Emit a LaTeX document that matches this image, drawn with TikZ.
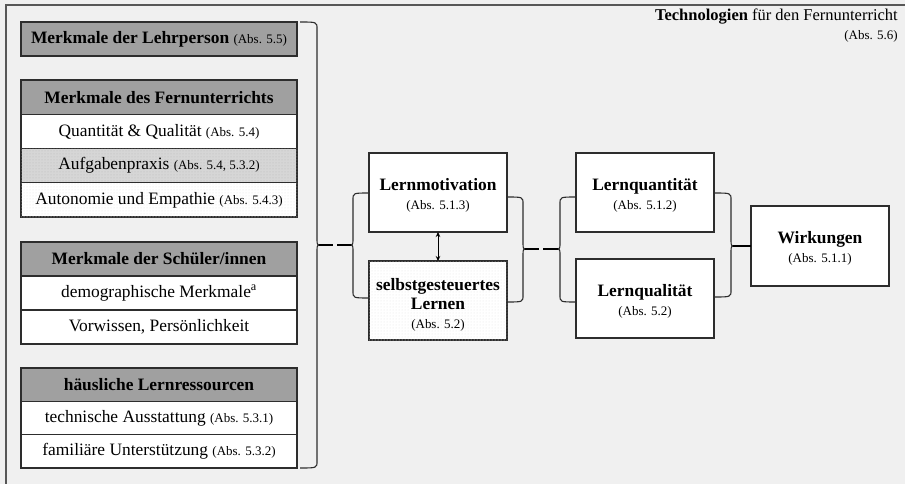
\documentclass[tikz,border=0pt]{standalone}
\usepackage{fontspec}
\setmainfont{Liberation Serif}
\usetikzlibrary{arrows.meta,patterns}
\definecolor{bgcol}{RGB}{240,240,240}
\definecolor{hdrcol}{RGB}{160,160,160}
\definecolor{midcol}{RGB}{214,214,214}
\definecolor{linecol}{RGB}{45,45,45}
\newcommand{\mainsz}{\fontsize{17.4}{19}\selectfont}
\newcommand{\smsz}{\fontsize{13}{19}\selectfont}
\newcommand{\mybrace}[6]{%
  \draw[bracestyle] (#1,#3) .. controls (#2,#3) and (#2,#3) .. (#2,#3+7)
    -- (#2,#5-6) .. controls (#2,#5) and (#2,#5) .. ({#2+#6*5},#5)
    .. controls (#2,#5) and (#2,#5) .. (#2,#5+6)
    -- (#2,#4-7) .. controls (#2,#4) and (#2,#4) .. (#1,#4);}
\tikzset{
  box/.style={draw=linecol, line width=1.2pt, inner sep=0pt, outer sep=0pt,
    minimum width=276pt, font=\mainsz, align=center},
  hdr/.style={box, fill=hdrcol, font=\mainsz\bfseries},
  plain/.style={box, fill=white},
  midrow/.style={box, fill=midcol, postaction={pattern=dots, pattern color=gray!55}},
  lightrow/.style={box, fill=white, postaction={pattern=dots, pattern color=gray!22}},
  bigbox/.style={draw=linecol, line width=1.2pt, inner sep=0pt, outer sep=0pt,
    minimum width=138pt, minimum height=79pt, fill=white, font=\mainsz, align=center},
  bracestyle/.style={draw=linecol, line width=1.1pt},
  tipline/.style={draw=black, line width=1.6pt},
  framestyle/.style={draw=linecol!80, line width=1.2pt},
}
\begin{document}
\begin{tikzpicture}[x=1pt,y=-1pt]
\useasboundingbox (0,0) rectangle (905,484);
\fill[bgcol] (0,0) rectangle (905,484);
\draw[framestyle] (6,484) -- (6,5) -- (905,5);

% top-right label
\node[anchor=north east, align=right, inner sep=0pt, font=\fontsize{16.5}{19}\selectfont] (tech) at (898,8.5)
  {\textbf{Technologien} für den Fernunterricht\\
   {\fontsize{13}{19}\selectfont (Abs. 5.6)}};

% left column
\node[hdr, minimum height=34pt] (lp) at (159,39)
  {Merkmale der Lehrperson {\smsz\mdseries (Abs. 5.5)}};

\node[hdr, minimum height=34.25pt] (fu) at (159,97.125) {Merkmale des Fernunterrichts};
\node[plain, minimum height=34.25pt] (qq) at (159,131.375) {Quantität \& Qualität {\smsz (Abs. 5.4)}};
\node[midrow, minimum height=34.25pt] (ap) at (159,165.625) {Aufgabenpraxis {\smsz (Abs. 5.4, 5.3.2)}};
\node[lightrow, minimum height=34.25pt] (ae) at (159,199.875) {Autonomie und Empathie {\smsz (Abs. 5.4.3)}};

\node[hdr, minimum height=34pt] (sm) at (159,259) {Merkmale der Schüler/innen};
\node[plain, minimum height=34pt] (dm) at (159,293) {demographische Merkmale\textsuperscript{a}};
\node[plain, minimum height=34pt] (vp) at (159,327) {Vorwissen, Persönlichkeit};

\node[hdr, minimum height=33.33pt] (hl) at (159,384.67) {häusliche Lernressourcen};
\node[plain, minimum height=33.33pt] (ta) at (159,418) {technische Ausstattung {\smsz (Abs. 5.3.1)}};
\node[plain, minimum height=33.33pt] (fa) at (159,451.33) {familiäre Unterstützung {\smsz (Abs. 5.3.2)}};

% middle column
\node[bigbox] (lm) at (438,192.5) {\rule{0pt}{17pt}\textbf{Lernmotivation}\\{\smsz (Abs. 5.1.3)}};
\node[bigbox, fill=white, postaction={pattern=dots, pattern color=gray!22}] (sl) at (438,300.5)
  {\rule{0pt}{21pt}\textbf{selbstgesteuertes}\\\textbf{Lernen}\\{\smsz (Abs. 5.2)}};
\draw[{Stealth[length=5pt,width=4.5pt]}-{Stealth[length=5pt,width=4.5pt]}, line width=1pt, black]
  (lm.south) -- (sl.north);

% right column
\node[bigbox] (lqn) at (645,192.5) {\rule{0pt}{17pt}\textbf{Lernquantität}\\{\smsz (Abs. 5.1.2)}};
\node[bigbox] (lql) at (645,298.5) {\rule{0pt}{18pt}\textbf{Lernqualität}\\{\smsz (Abs. 5.2)}};
\node[bigbox, minimum height=80pt] (wk) at (820,246) {\rule{0pt}{16pt}\textbf{Wirkungen}\\{\smsz (Abs. 5.1.1)}};

% braces
\mybrace{300}{317}{22}{468}{245}{1}
\mybrace{369}{353}{193}{298}{245}{-1}
\mybrace{507}{523}{197}{302}{249}{1}
\mybrace{576}{560}{197}{302}{249}{-1}
\mybrace{714}{731}{193}{297}{246}{1}

\coordinate (b1) at (319,245);
\coordinate (b1e) at (333,245);
\coordinate (b2) at (351,245);
\coordinate (b2e) at (337,245);
\coordinate (b3) at (525,249);
\coordinate (b3e) at (539,249);
\coordinate (b4) at (558,249);
\coordinate (b4e) at (543,249);
\coordinate (b5) at (733,246);
\draw[tipline] (b1) -- (b1e);
\draw[tipline] (b2) -- (b2e);
\draw[tipline] (b3) -- (b3e);
\draw[tipline] (b4) -- (b4e);
\draw[tipline] (b5) -- (wk.west |- b5);
\end{tikzpicture}
\end{document}
